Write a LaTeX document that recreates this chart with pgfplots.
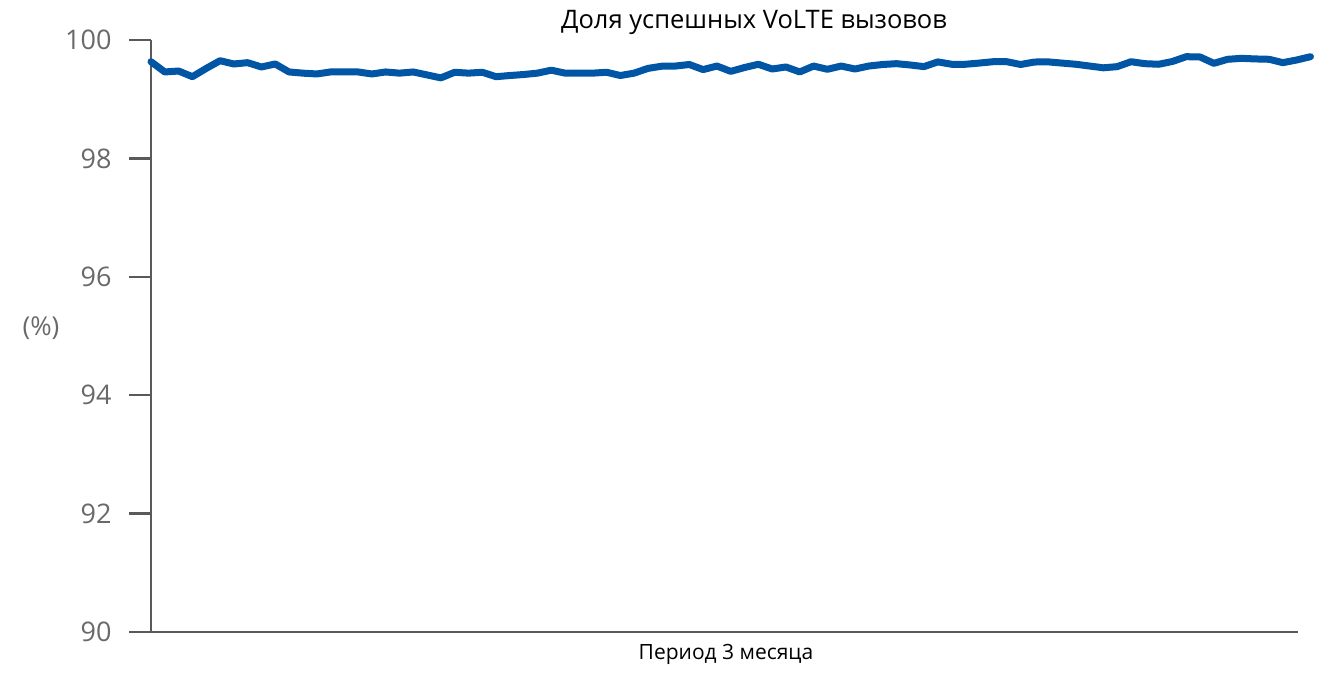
\documentclass[border=0pt]{standalone}
\usepackage{pgfplots}
\pgfplotsset{compat=1.18}
\usepackage{fontspec}
\setmainfont{Open Sans}
\definecolor{lineblue}{RGB}{0,85,165}
\definecolor{axgray}{RGB}{90,90,90}
\definecolor{lblgray}{RGB}{105,105,105}
\begin{document}
\begin{tikzpicture}[x=1pt,y=1pt]
\begin{axis}[
  at={(151pt,53pt)}, anchor=origin,
  scale only axis, width=1147pt, height=592pt,
  xmin=0, xmax=83.1, ymin=90, ymax=100,
  axis x line*=bottom, axis y line*=left,
  axis line style={axgray, line width=2.5pt, -},
  xtick=\empty,
  ytick={90,92,...,100},
  ytick style={axgray, line width=2.5pt},
  tick align=outside, major tick length=22pt,
  yticklabel style={font=\fontsize{27}{30}\selectfont, text=lblgray, xshift=-14pt},
  /pgf/number format/assume math mode=true,
  clip=false,
]
\addplot[lineblue, line width=7pt, line join=round, line cap=round] coordinates {
(0,99.633)(1,99.46)(2,99.476)(3,99.38)(4,99.52)(5,99.65)(6,99.595)(7,99.617)(8,99.544)(9,99.595)
(10,99.46)(11,99.44)(12,99.426)(13,99.46)(14,99.46)(15,99.46)(16,99.426)(17,99.46)(18,99.44)(19,99.46)
(20,99.41)(21,99.36)(22,99.455)(23,99.44)(24,99.455)(25,99.38)(26,99.40)(27,99.417)(28,99.44)(29,99.49)
(30,99.44)(31,99.44)(32,99.44)(33,99.455)(34,99.40)(35,99.44)(36,99.52)(37,99.557)(38,99.56)(39,99.586)
(40,99.50)(41,99.56)(42,99.47)(43,99.535)(44,99.59)(45,99.51)(46,99.544)(47,99.46)(48,99.56)(49,99.505)
(50,99.56)(51,99.51)(52,99.56)(53,99.586)(54,99.60)(55,99.578)(56,99.55)(57,99.63)(58,99.59)(59,99.59)
(60,99.61)(61,99.633)(62,99.633)(63,99.586)(64,99.628)(65,99.63)(66,99.61)(67,99.59)(68,99.56)(69,99.53)
(70,99.55)(71,99.633)(72,99.60)(73,99.59)(74,99.637)(75,99.718)(76,99.713)(77,99.606)(78,99.674)(79,99.69)
(80,99.68)(81,99.674)(82,99.617)(83,99.662)(84,99.718)
};
\end{axis}
\node[font=\fontsize{25.5}{28}\selectfont, text=black] at (754pt,663pt) {Доля успешных VoLTE вызовов};
\node[font=\fontsize{21}{24}\selectfont, text=black] at (726pt,31pt) {Период 3 месяца};
\node[font=\fontsize{26}{29}\selectfont, text=lblgray] at (41pt,357pt) {(\%)};
\pgfresetboundingbox
\useasboundingbox (0,0) rectangle (1327pt,685pt);
\end{tikzpicture}
\end{document}
